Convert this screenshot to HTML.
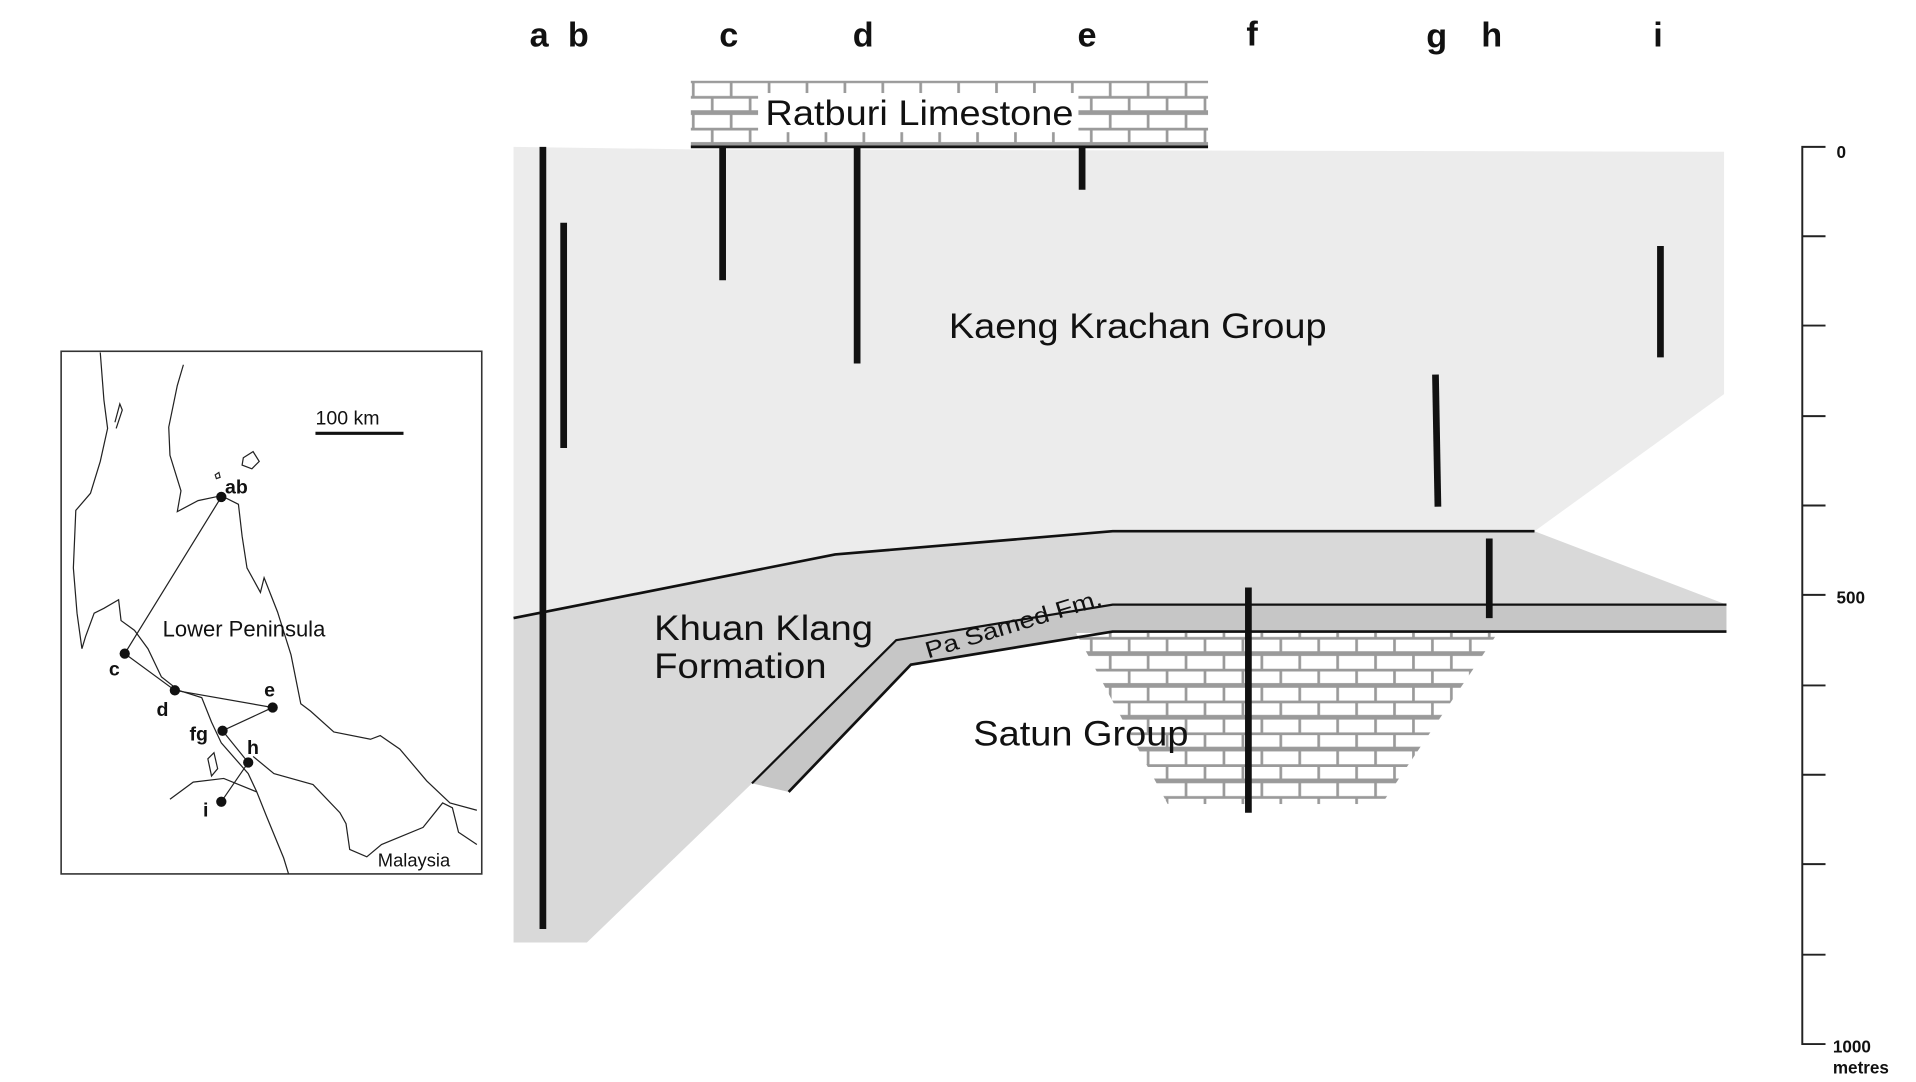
<!DOCTYPE html>
<html><head><meta charset="utf-8"><style>html,body{margin:0;padding:0;background:#fff;width:1916px;height:1082px;overflow:hidden}svg{display:block}</style></head>
<body>
<svg width="1916" height="1082" viewBox="0 0 1567 884" preserveAspectRatio="none" xmlns="http://www.w3.org/2000/svg" font-family="Liberation Sans, sans-serif">
<defs>
<pattern id="brick" x="565" y="66" width="31" height="26" patternUnits="userSpaceOnUse">
<rect width="31" height="26" fill="#fff"/>
<path d="M0 0.8H31M0 13.5H31M0 25.2H31M2 0V13M17.5 13V26" stroke="#9a9a9a" stroke-width="2.2" fill="none"/>
</pattern>
<clipPath id="trap"><polygon points="880,517 1225,517 1130,657 955,657"/></clipPath>
</defs>
<rect x="565" y="66" width="423" height="54" fill="url(#brick)"/>
<rect x="620" y="76" width="262" height="32" fill="#fff"/>
<text x="626" y="102" font-size="29" textLength="252" lengthAdjust="spacingAndGlyphs" fill="#111">Ratburi Limestone</text>
<polygon points="420,120 565,122 1410,124 1410,322 1255,434 910,434 683,453 420,505" fill="#ececec"/>
<polygon points="420,505 683,453 910,434 1255,434 1412,494 910,494 733,523 615,640 480,770 420,770" fill="#d9d9d9"/>
<polygon points="733,523 910,494 1412,494 1412,516 910,516 745,543 645,647 615,640" fill="#c6c6c6"/>
<rect x="870" y="517" width="360" height="145" fill="url(#brick)" clip-path="url(#trap)"/>
<g stroke="#111" fill="none" stroke-width="2.2">
<line x1="565" y1="120" x2="988" y2="120"/>
<polyline points="420,505 683,453 910,434 1255,434"/>
<polyline points="615,640 733,523 910,494 1412,494" stroke-width="1.8"/>
<polyline points="645,647 745,543 910,516 1412,516"/>
</g>
<g stroke="#111" stroke-width="5.5">
<line x1="444" y1="120" x2="444" y2="759"/>
<line x1="461" y1="182" x2="461" y2="366"/>
<line x1="591" y1="120" x2="591" y2="229"/>
<line x1="701" y1="120" x2="701" y2="297"/>
<line x1="885" y1="120" x2="885" y2="155"/>
<line x1="1021" y1="480" x2="1021" y2="664"/>
<line x1="1174" y1="306" x2="1176" y2="414"/>
<line x1="1218" y1="440" x2="1218" y2="505"/>
<line x1="1358" y1="201" x2="1358" y2="292"/>
</g>
<g font-size="28" font-weight="bold" fill="#111" text-anchor="middle">
<text x="441" y="38">a</text><text x="473" y="38">b</text><text x="596" y="38">c</text><text x="706" y="38">d</text><text x="889" y="38">e</text><text x="1024" y="37">f</text><text x="1175" y="39">g</text><text x="1220" y="38">h</text><text x="1356" y="38">i</text>
</g>
<g fill="#111">
<text x="776" y="276" font-size="29" textLength="309" lengthAdjust="spacingAndGlyphs">Kaeng Krachan Group</text>
<text x="535" y="523" font-size="29" textLength="179" lengthAdjust="spacingAndGlyphs">Khuan Klang</text>
<text x="535" y="554" font-size="29" textLength="141" lengthAdjust="spacingAndGlyphs">Formation</text>
<text x="796" y="609" font-size="29" textLength="176" lengthAdjust="spacingAndGlyphs">Satun Group</text>
<text x="0" y="0" font-size="19" transform="translate(759,538) rotate(-17)" textLength="150" lengthAdjust="spacingAndGlyphs">Pa Samed Fm.</text>
</g>
<g stroke="#222" stroke-width="1.6" fill="none">
<polyline points="1493,120 1474,120 1474,853 1493,853"/>
<line x1="1474" y1="193" x2="1493" y2="193"/><line x1="1474" y1="266" x2="1493" y2="266"/><line x1="1474" y1="340" x2="1493" y2="340"/><line x1="1474" y1="413" x2="1493" y2="413"/><line x1="1474" y1="486" x2="1493" y2="486"/><line x1="1474" y1="560" x2="1493" y2="560"/><line x1="1474" y1="633" x2="1493" y2="633"/><line x1="1474" y1="706" x2="1493" y2="706"/><line x1="1474" y1="780" x2="1493" y2="780"/>
</g>
<g font-size="14" font-weight="bold" fill="#111">
<text x="1502" y="129">0</text><text x="1502" y="493">500</text><text x="1499" y="860">1000</text><text x="1499" y="877">metres</text>
</g>
<rect x="50" y="287" width="344" height="427" fill="#fff" stroke="#333" stroke-width="1.3"/>
<g stroke="#222" stroke-width="1" fill="none">
<polyline points="82,288 85,327 88,350 82,377 74,403 62,417 60,464 63,501 67,530 70,520 77,501 85,497 97,490 99,507 110,515 121,530 132,553 146,564 165,570 173,590 181,607 203,632 210,647 218,667 232,701 236,714"/>
<polyline points="150,298 145,315 138,349 139,372 148,401 145,418 162,409 181,405 195,412 198,438 202,464 213,484 216,472 227,500 238,535 246,575 254,581 273,598 303,604 311,601 327,612 349,638 368,656 390,662"/>
<polyline points="207,618 224,632 256,641 278,664 283,673 286,694 300,700 312,690 346,676 362,656 370,660 375,680 390,690"/>
<polyline points="139,653 158,639 183,636 210,647"/>
<polyline points="95,350 100,335 98,330 94,345"/>
<polygon points="199,374 207,369 212,377 206,383 198,380"/>
<polygon points="176,388 179,386 180,390 177,391"/>
<polygon points="170,620 175,615 178,628 173,634"/>
</g>
<g stroke="#222" stroke-width="1" fill="none">
<polyline points="181,406 102,534 143,564 223,578 182,597 203,623 181,655"/>
</g>
<g fill="#111">
<circle cx="181" cy="406" r="4.2"/><circle cx="102" cy="534" r="4.2"/><circle cx="143" cy="564" r="4.2"/><circle cx="223" cy="578" r="4.2"/><circle cx="182" cy="597" r="4.2"/><circle cx="203" cy="623" r="4.2"/><circle cx="181" cy="655" r="4.2"/>
</g>
<g font-size="16" font-weight="bold" fill="#111">
<text x="184" y="403">ab</text><text x="89" y="552">c</text><text x="128" y="585">d</text><text x="216" y="569">e</text><text x="155" y="605">fg</text><text x="202" y="616">h</text><text x="166" y="667">i</text>
</g>
<g font-size="16" fill="#111">
<text x="258" y="347">100 km</text>
<text x="133" y="520" font-size="18">Lower Peninsula</text>
<text x="309" y="708" font-size="15">Malaysia</text>
</g>
<line x1="258" y1="354" x2="330" y2="354" stroke="#111" stroke-width="2.5"/>
</svg>
</body></html>
